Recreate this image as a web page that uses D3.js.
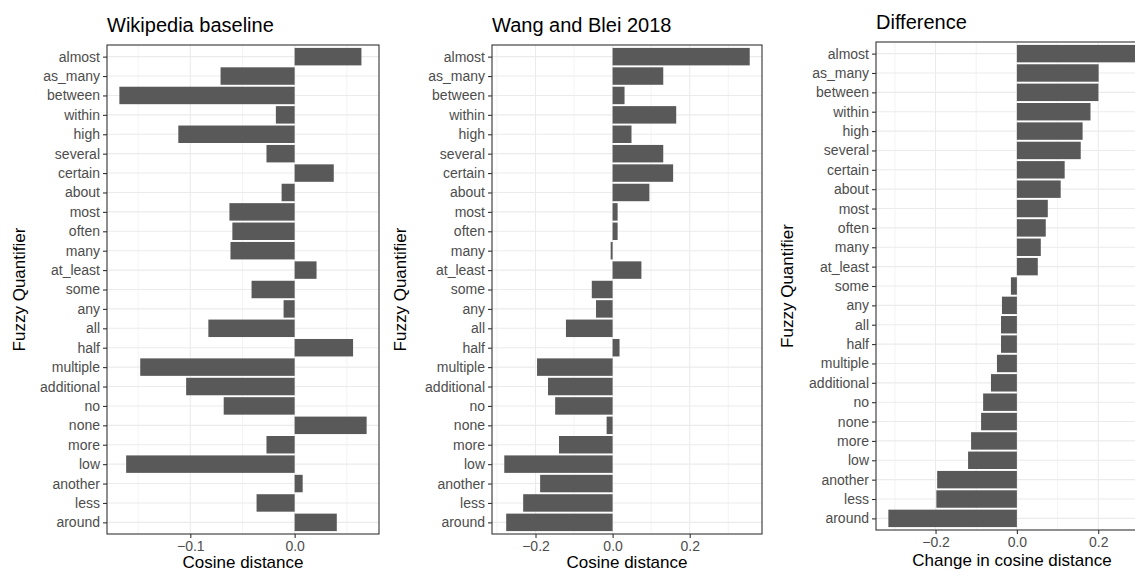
<!DOCTYPE html>
<html>
<head>
<meta charset="utf-8">
<script src="https://cdn.jsdelivr.net/npm/d3@7"></script>
<style>
  html, body { margin: 0; padding: 0; background: #ffffff; }
  svg { display: block; }
  text { font-family: "Liberation Sans", Arial, Helvetica, sans-serif; }
</style>
</head>
<body>
<svg id="chart" width="1135" height="573"></svg>
<script>
// Quantifiers, top to bottom (ordered by change in cosine distance)
const quantifiers = ["almost", "as_many", "between", "within", "high", "several", "certain",
  "about", "most", "often", "many", "at_least", "some", "any", "all", "half", "multiple",
  "additional", "no", "none", "more", "low", "another", "less", "around"];

// Cosine distance, Wikipedia baseline embeddings
const wikipediaValues = [0.064, -0.071, -0.168, -0.018, -0.1115, -0.027, 0.0375,
  -0.0125, -0.0625, -0.0597, -0.0615, 0.021, -0.0413, -0.0106, -0.0827, 0.056, -0.148,
  -0.104, -0.068, 0.069, -0.027, -0.1615, 0.0077, -0.0365, 0.0404];

// Cosine distance, Wang and Blei 2018 embeddings
const wangBleiValues = [0.3557, 0.1314, 0.031, 0.165, 0.049, 0.1314, 0.157,
  0.0954, 0.013, 0.013, -0.005, 0.0747, -0.054, -0.043, -0.121, 0.018, -0.196,
  -0.1675, -0.149, -0.0155, -0.139, -0.281, -0.188, -0.232, -0.276];

// Change in cosine distance between the two
const differenceValues = [0.292, 0.201, 0.2005, 0.181, 0.1616, 0.157, 0.1175,
  0.1077, 0.076, 0.071, 0.0588, 0.0514, -0.0147, -0.0367, -0.039, -0.039, -0.049,
  -0.0637, -0.083, -0.088, -0.1126, -0.12, -0.196, -0.198, -0.316];

// Axis breaks
const ticksWiki = [-0.1, 0.0];
const minorWiki = [-0.15, -0.05, 0.05];
const ticksWang = [-0.2, 0.0, 0.2];
const minorWang = [-0.3, -0.1, 0.1, 0.3];
const ticksDiff = [-0.2, 0.0, 0.2];
const minorDiff = [-0.3, -0.1, 0.1, 0.3];

const titles = ["Wikipedia baseline", "Wang and Blei 2018", "Difference"];
const xTitles = ["Cosine distance", "Cosine distance", "Change in cosine distance"];
const yTitle = "Fuzzy Quantifier";

const svg = d3.select("#chart");

const GRID = "#EBEBEB";
const INK = "#333333";
const TICK_TEXT = "#4D4D4D";
const BAR = "#595959";

function drawPanel(cfg) {
  const g = svg.append("g");
  const data = quantifiers.map((q, i) => ({ q, v: cfg.values[i] }));

  // ggplot-style 5% expansion of the continuous range
  const [lo, hi] = d3.extent(cfg.values.concat([0]));
  const pad = (hi - lo) * 0.05;
  const x = d3.scaleLinear().domain([lo - pad, hi + pad]).range([cfg.left, cfg.right]);
  const y = d3.scalePoint().domain(quantifiers).range([cfg.top, cfg.bottom]).padding(0.6);
  const bh = y.step() * 0.9;

  const clipId = "clip" + cfg.id;
  svg.append("clipPath").attr("id", clipId)
    .append("rect").attr("x", cfg.left).attr("y", cfg.top)
    .attr("width", cfg.right - cfg.left).attr("height", cfg.bottom - cfg.top);

  const plot = g.append("g").attr("clip-path", `url(#${clipId})`);

  // panel background
  plot.append("rect").attr("x", cfg.left).attr("y", cfg.top)
    .attr("width", cfg.right - cfg.left).attr("height", cfg.bottom - cfg.top)
    .attr("fill", "#ffffff");

  // minor vertical grid
  plot.selectAll(".minor").data(cfg.minor).join("line")
    .attr("x1", d => x(d)).attr("x2", d => x(d))
    .attr("y1", cfg.top).attr("y2", cfg.bottom)
    .attr("stroke", GRID).attr("stroke-width", 0.6);

  // major vertical grid
  plot.selectAll(".majorx").data(cfg.ticks).join("line")
    .attr("x1", d => x(d)).attr("x2", d => x(d))
    .attr("y1", cfg.top).attr("y2", cfg.bottom)
    .attr("stroke", GRID).attr("stroke-width", 1.1);

  // horizontal grid at every quantifier
  plot.selectAll(".majory").data(quantifiers).join("line")
    .attr("x1", cfg.left).attr("x2", cfg.right)
    .attr("y1", d => y(d)).attr("y2", d => y(d))
    .attr("stroke", GRID).attr("stroke-width", 1.1);

  // bars
  plot.selectAll(".bar").data(data).join("rect")
    .attr("x", d => x(Math.min(0, d.v)))
    .attr("width", d => Math.abs(x(d.v) - x(0)))
    .attr("y", d => y(d.q) - bh / 2)
    .attr("height", bh)
    .attr("fill", BAR);

  // panel border
  g.append("rect").attr("x", cfg.left).attr("y", cfg.top)
    .attr("width", cfg.right - cfg.left).attr("height", cfg.bottom - cfg.top)
    .attr("fill", "none").attr("stroke", INK).attr("stroke-width", 1.1);

  // x axis
  const xa = g.append("g").attr("transform", `translate(0,${cfg.bottom})`)
    .call(d3.axisBottom(x).tickValues(cfg.ticks).tickFormat(d3.format(".1f"))
      .tickSizeInner(4).tickSizeOuter(0).tickPadding(3));
  xa.select(".domain").remove();
  xa.selectAll("line").attr("stroke", INK).attr("stroke-width", 1.1);
  xa.selectAll("text").attr("fill", TICK_TEXT).style("font-size", "14px")
    .style("font-family", "'Liberation Sans', Arial, sans-serif");

  // y axis
  const ya = g.append("g").attr("transform", `translate(${cfg.left},0)`)
    .call(d3.axisLeft(y).tickSizeInner(4).tickSizeOuter(0).tickPadding(3));
  ya.select(".domain").remove();
  ya.selectAll("line").attr("stroke", INK).attr("stroke-width", 1.1);
  ya.selectAll("text").attr("fill", TICK_TEXT).style("font-size", "14px")
    .style("font-family", "'Liberation Sans', Arial, sans-serif");

  // titles
  g.append("text").attr("x", cfg.left).attr("y", cfg.titleY)
    .attr("fill", "#000").style("font-size", "20px").text(cfg.title);

  g.append("text").attr("x", (cfg.left + cfg.right) / 2).attr("y", cfg.xTitleY)
    .attr("text-anchor", "middle").attr("fill", "#000").style("font-size", "17px")
    .text(cfg.xTitle);

  g.append("text")
    .attr("transform", `translate(${cfg.yTitleX},${(cfg.top + cfg.bottom) / 2}) rotate(-90)`)
    .attr("text-anchor", "middle").attr("fill", "#000").style("font-size", "17px")
    .text(yTitle);
}

drawPanel({ id: 1, values: wikipediaValues, ticks: ticksWiki, minor: minorWiki,
  left: 107, right: 379, top: 45, bottom: 534, titleY: 32, xTitleY: 568, yTitleX: 25,
  title: titles[0], xTitle: xTitles[0] });

drawPanel({ id: 2, values: wangBleiValues, ticks: ticksWang, minor: minorWang,
  left: 492, right: 762, top: 45, bottom: 534, titleY: 32, xTitleY: 568, yTitleX: 406,
  title: titles[1], xTitle: xTitles[1] });

drawPanel({ id: 3, values: differenceValues, ticks: ticksDiff, minor: minorDiff,
  left: 876, right: 1148, top: 42, bottom: 530, titleY: 29, xTitleY: 566, yTitleX: 793,
  title: titles[2], xTitle: xTitles[2] });
</script>
</body>
</html>
